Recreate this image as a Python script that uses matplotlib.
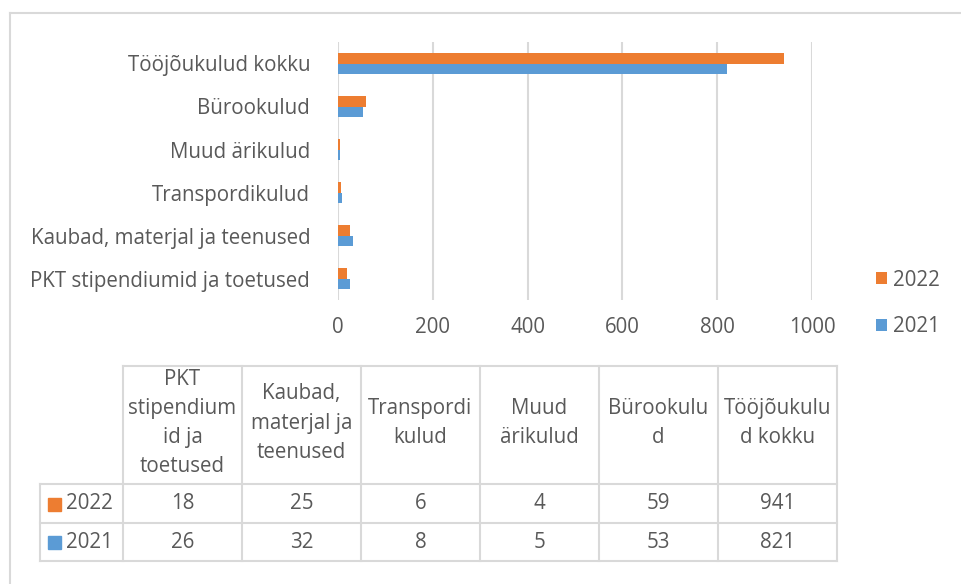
import numpy as np
import matplotlib
matplotlib.use("Agg")
from matplotlib import pyplot as plt
from matplotlib.patches import Rectangle

plt.rcParams['font.family'] = ['Open Sans', 'DejaVu Sans']

# data
categories = ['PKT stipendiumid ja toetused', 'Kaubad, materjal ja teenused',
              'Transpordikulud', 'Muud ärikulud', 'Bürookulud', 'Tööjõukulud kokku']
table_headers = ['PKT\nstipendium\nid ja\ntoetused', 'Kaubad,\nmaterjal ja\nteenused',
                 'Transpordi\nkulud', 'Muud\närikulud', 'Bürookulu\nd', 'Tööjõukulu\nd kokku']
values_2022 = [18, 25, 6, 4, 59, 941]
values_2021 = [26, 32, 8, 5, 53, 821]
series = ['2022', '2021']
x_ticks = [0, 200, 400, 600, 800, 1000]

c_2022 = '#ED7D31'
c_2021 = '#5B9BD5'
text_c = '#595959'
grid_c = '#D9D9D9'
fs = 14.8

W, H = 962, 584
fig = plt.figure(figsize=(W / 100, H / 100), dpi=100)

def px(x0, y0, x1, y1):
    # pixel box -> figure fraction
    return [x0 / W, 1 - y1 / H, (x1 - x0) / W, (y1 - y0) / H]

# bar chart
ax = fig.add_axes(px(338, 42, 812, 300))
y = np.arange(len(categories))
h = 0.25
b22 = ax.barh(y + h / 2, values_2022, height=h, color=c_2022, label='2022')
b21 = ax.barh(y - h / 2, values_2021, height=h, color=c_2021, label='2021')
ax.set_ylim(-0.5, len(categories) - 0.5)
ax.set_xlim(0, 1000)
ax.set_xticks(x_ticks)
ax.set_xticklabels([str(t) for t in x_ticks])
ax.set_yticks(y)
ax.set_yticklabels(categories)
ax.tick_params(axis='both', length=0, labelsize=fs, labelcolor=text_c)
ax.tick_params(axis='y', pad=20)
ax.tick_params(axis='x', pad=12)
ax.grid(axis='x', color=grid_c, linewidth=1.5)
ax.set_axisbelow(True)
for s in ax.spines.values():
    s.set_visible(False)

fig.legend(handles=[b22, b21], labels=series, loc='upper left',
           bbox_to_anchor=(858 / W, 1 - 251 / H), frameon=False, fontsize=fs,
           labelcolor=text_c, handlelength=0.5, handleheight=0.5,
           handletextpad=0.3, labelspacing=1.25)

# overlay for frame and data table
ov = fig.add_axes([0, 0, 1, 1], zorder=-1)
ov.set_xlim(0, W)
ov.set_ylim(H, 0)
ov.axis('off')
ov.plot([10, 10], [13, H], color=grid_c, lw=1.5)
ov.plot([10, W], [13, 13], color=grid_c, lw=1.5)

tab = fig.add_axes([0, 0, 1, 1])
tab.set_xlim(0, W)
tab.set_ylim(H, 0)
tab.axis('off')
tab.patch.set_alpha(0)

col_x = np.linspace(123, 837, len(categories) + 1)
row_y = [366, 484, 523, 561]
lab_x0 = 40
lc = '#D9D9D9'
lw = 1.5
tab.plot([col_x[0], col_x[-1]], [row_y[0], row_y[0]], color=lc, lw=lw)
for yy in row_y[1:]:
    tab.plot([lab_x0, col_x[-1]], [yy, yy], color=lc, lw=lw)
for xx in col_x:
    tab.plot([xx, xx], [row_y[0], row_y[-1]], color=lc, lw=lw)
tab.plot([lab_x0, lab_x0], [row_y[1], row_y[-1]], color=lc, lw=lw)

for i, hdr in enumerate(table_headers):
    cx = (col_x[i] + col_x[i + 1]) / 2
    tab.text(cx, 423, hdr, ha='center', va='center', fontsize=fs,
             color=text_c, linespacing=1.5)

for r, (name, vals, col) in enumerate([(series[0], values_2022, c_2022),
                                       (series[1], values_2021, c_2021)]):
    cy = (row_y[r + 1] + row_y[r + 2]) / 2
    tab.add_patch(Rectangle((48, cy - 6), 13, 13, color=col))
    tab.text(66, cy, name, ha='left', va='center', fontsize=fs, color=text_c)
    for i, v in enumerate(vals):
        cx = (col_x[i] + col_x[i + 1]) / 2
        tab.text(cx, cy, str(v), ha='center', va='center', fontsize=fs, color=text_c)

fig.savefig('out.png', dpi=100, facecolor='white')
